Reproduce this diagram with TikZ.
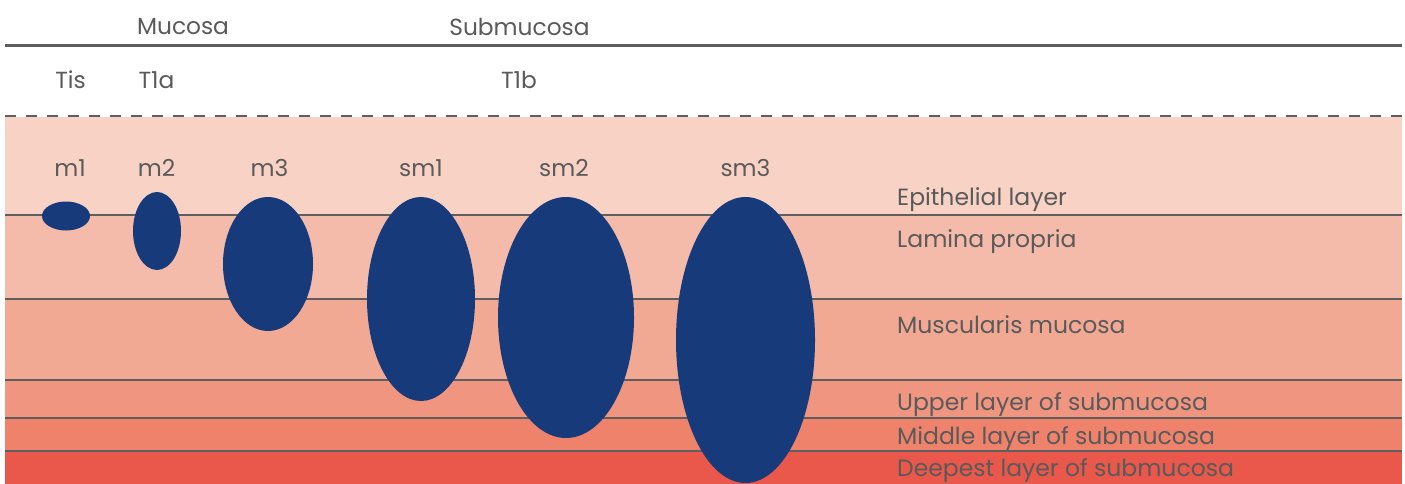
\documentclass[tikz,border=0pt]{standalone}
\usepackage{fontspec}
\setmainfont{Poppins}
\usetikzlibrary{shapes.geometric}
\definecolor{cEpi}{HTML}{F8D2C5}
\definecolor{cLam}{HTML}{F4BBAA}
\definecolor{cMus}{HTML}{F2A994}
\definecolor{cUpp}{HTML}{F0957F}
\definecolor{cMid}{HTML}{EE826B}
\definecolor{cDee}{HTML}{E9584A}
\definecolor{cBlob}{HTML}{173A7B}
\definecolor{cLine}{HTML}{5E5E5E}
\definecolor{cText}{HTML}{5A5A5A}
\tikzset{
  lbl/.style={text=cText, inner sep=0pt, font=\fontsize{23.3}{26}\selectfont},
  laylbl/.style={text=cText, inner sep=0pt, anchor=west, font=\fontsize{23.5}{26}\selectfont},
  sep/.style={draw=cLine, line width=2.8pt},
  blob/.style={ellipse, fill=cBlob, draw=none, inner sep=0pt},
}
\begin{document}
\begin{tikzpicture}[x=1pt,y=-1pt]
\useasboundingbox (0,0) rectangle (1405,484);
% bands
\fill[cEpi] (5,117) rectangle (1402,215);
\fill[cLam] (5,215) rectangle (1402,299);
\fill[cMus] (5,299) rectangle (1402,380);
\fill[cUpp] (5,380) rectangle (1402,418);
\fill[cMid] (5,418) rectangle (1402,451);
\fill[cDee] (5,451) rectangle (1402,484);
% lines
\coordinate (tl) at (5,45.5); \coordinate (tr) at (1402,45.5);
\coordinate (dl) at (5,116); \coordinate (dr) at (1402,116);
\draw[sep] (tl) -- (tr);
\draw[sep, dash pattern=on 11pt off 10pt] (dl) -- (dr);
\foreach \yy/\nm in {215/a,299/b,380/c,418/d,451/e}{
  \coordinate (L\nm) at (5,\yy); \coordinate (R\nm) at (1402,\yy);
  \draw[sep] (L\nm) -- (R\nm);
}
% ellipses
\node[blob, minimum width=48pt, minimum height=29pt] (m1) at (66,216) {};
\node[blob, minimum width=48pt, minimum height=78pt] (m2) at (157,231) {};
\node[blob, minimum width=90pt, minimum height=134pt] (m3) at (268,264) {};
\node[blob, minimum width=108pt, minimum height=204pt] (sm1) at (421,299) {};
\node[blob, minimum width=136pt, minimum height=241pt] (sm2) at (566,317.5) {};
\node[blob, minimum width=139pt, minimum height=286pt] (sm3) at (745.5,340) {};
% top labels
\node[lbl] (muc) at (183,27) {Mucosa};
\node[lbl] (sub) at (519.5,27) {Submucosa};
\node[lbl] (tis) at (70.5,80) {Tis};
\node[lbl] (t1a) at (156.5,80) {T1a};
\node[lbl] (t1b) at (519,80) {T1b};
\node[lbl] (lm1) at (70,168) {m1};
\node[lbl] (lm2) at (156.5,168) {m2};
\node[lbl] (lm3) at (269.5,168) {m3};
\node[lbl] (lsm1) at (421,168) {sm1};
\node[lbl] (lsm2) at (564,168) {sm2};
\node[lbl] (lsm3) at (745.5,168) {sm3};
% layer labels
\node[laylbl] (epi) at (897,200) {Epithelial layer};
\node[laylbl] (lam) at (897,242) {Lamina propria};
\node[laylbl] (mus) at (897,325) {Muscularis mucosa};
\node[laylbl] (upp) at (897,405) {Upper layer of submucosa};
\node[laylbl] (mid) at (897,439) {Middle layer of submucosa};
\node[laylbl] (dee) at (897,471) {Deepest layer of submucosa};
\end{tikzpicture}
\end{document}
